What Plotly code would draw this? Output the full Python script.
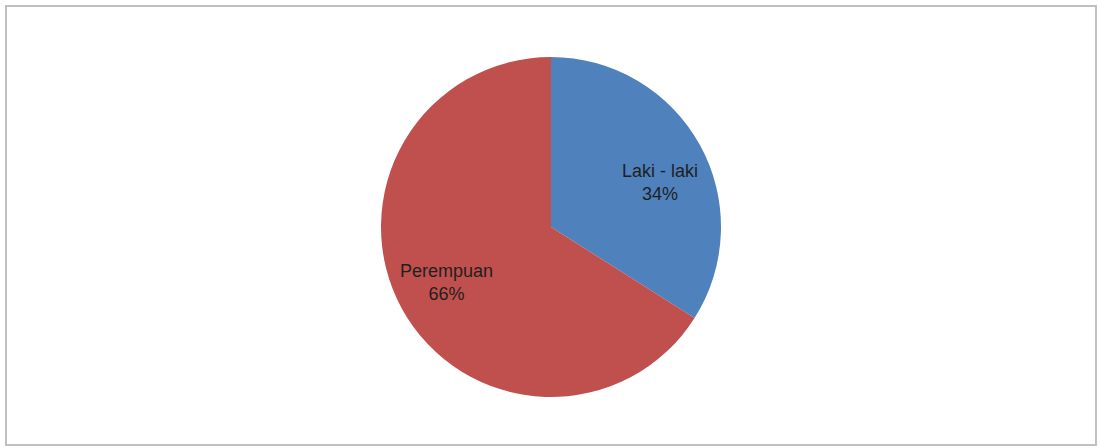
import math
import plotly.graph_objects as go

labels = ["Laki - laki", "Perempuan"]
values = [34, 66]
colors = ["#4f81bd", "#c0504d"]

W, H = 1100, 448
cx, cy, r = 551, 227, 170
# label nudges (pixels) to mimic the "best fit" placement of the original
label_nudge = [(6, -12), (-2, 1)]

fig = go.Figure(go.Pie(
    labels=labels,
    values=values,
    marker=dict(colors=colors, line=dict(width=0)),
    sort=False,
    direction="clockwise",
    rotation=0,
    textinfo="none",
    domain=dict(x=[(cx - r) / W, (cx + r) / W], y=[(H - cy - r) / H, (H - cy + r) / H]),
    hoverinfo="label+percent",
))

# data labels placed at each slice's mid-angle
total = sum(values)
cum = 0
for (lab, v), (nx, ny) in zip(zip(labels, values), label_nudge):
    mid = (cum + v / 2) / total * 2 * math.pi
    cum += v
    px = cx + 0.69 * r * math.sin(mid)
    py = cy - 0.69 * r * math.cos(mid)
    fig.add_annotation(
        x=px / W, y=(H - py) / H, xref="paper", yref="paper",
        xshift=nx, yshift=ny,
        text=f"{lab}<br>{round(v / total * 100)}%",
        showarrow=False, align="center",
        font=dict(family="Liberation Sans, Arial, sans-serif", size=18, color="#1f1f1f"),
    )

fig.add_shape(type="rect", xref="paper", yref="paper",
              x0=6 / W, x1=1096 / W, y0=3 / H, y1=442 / H,
              line=dict(color="#c0c0c0", width=2), fillcolor="rgba(0,0,0,0)")

fig.update_layout(
    width=W, height=H,
    margin=dict(l=0, r=0, t=0, b=0),
    paper_bgcolor="white",
    plot_bgcolor="white",
    showlegend=False,
)

fig.write_html("out.html")
